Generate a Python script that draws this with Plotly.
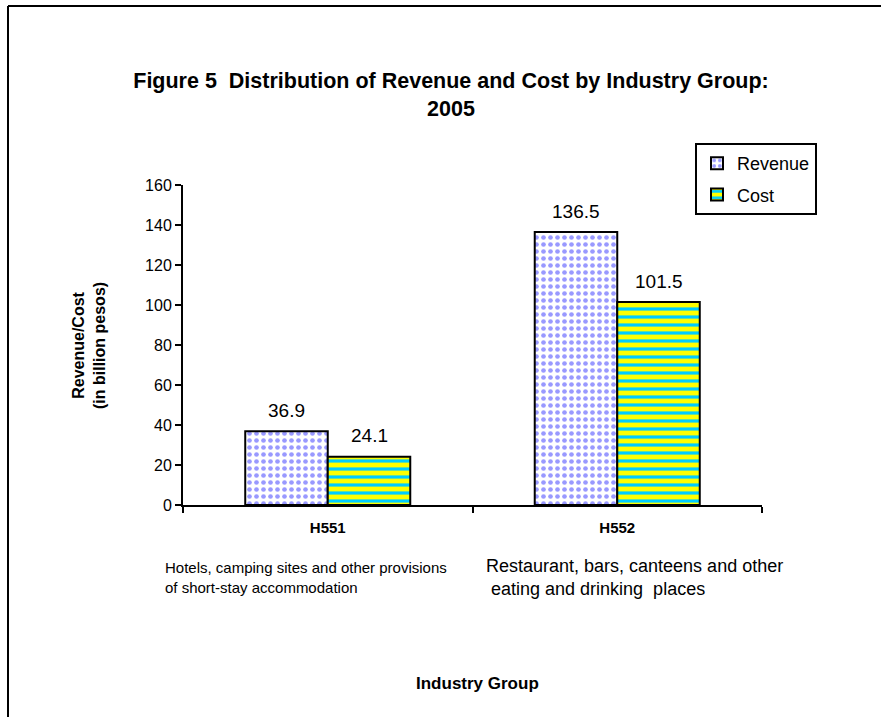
import plotly.graph_objects as go

categories = ["H551", "H552"]
revenue = [36.9, 136.5]
cost = [24.1, 101.5]
revenue_labels = ["36.9", "136.5"]
cost_labels = ["24.1", "101.5"]
y_ticks = [0, 20, 40, 60, 80, 100, 120, 140, 160]

ARIAL = "Liberation Sans, Arial, sans-serif"

W, H = 881, 717
L, R, T, B = 183, 119, 185, 212
pw = W - L - R
ph = H - T - B
BARGAP = 0.43


def px(x):
    return (x - L) / pw


def py(y):
    return 1 - (y - T) / ph


fig = go.Figure()
fig.add_trace(go.Bar(
    name="Revenue", x=categories, y=revenue, legendgroup="rev",
    marker=dict(color="white", line=dict(color="black", width=2),
                pattern=dict(shape=".", fgcolor="#9999FF", bgcolor="white",
                             size=7, solidity=0.35, fillmode="replace")),
))
fig.add_trace(go.Bar(
    name="Cost", x=categories, y=cost, legendgroup="cost",
    marker=dict(color="#FFFF00", line=dict(color="black", width=2),
                pattern=dict(shape="-", fgcolor="#00CCFF", bgcolor="#FFFF00",
                             size=8, solidity=0.4, fillmode="replace")),
))

# value labels above bars (positioned from the data values)
cat_px = pw / len(categories)
bar_px = cat_px * (1 - BARGAP) / 2
for vals, labels, side in ((revenue, revenue_labels, -1), (cost, cost_labels, 1)):
    for c, v, t in zip(categories, vals, labels):
        fig.add_annotation(x=c, y=v, xref="x", yref="y", text=t, showarrow=False,
                           xshift=side * bar_px / 2, yshift=21, yanchor="middle",
                           font=dict(family=ARIAL, size=19, color="black"))

fig.update_layout(
    width=W, height=H,
    margin=dict(l=L, r=R, t=T, b=B),
    paper_bgcolor="white", plot_bgcolor="white",
    barmode="group", bargap=BARGAP, bargroupgap=0,
    title=dict(text="<b>Figure 5  Distribution of Revenue and Cost by Industry Group:<br>2005</b>",
               x=451 / W, xanchor="center", y=1 - 88 / H, yanchor="middle",
               font=dict(family=ARIAL, size=21.5, color="black")),
    legend=dict(x=px(695), xanchor="left", y=py(143), yanchor="top",
                bordercolor="black", borderwidth=2, bgcolor="white",
                font=dict(family=ARIAL, size=18, color="black"),
                tracegroupgap=5, itemwidth=30),
    showlegend=True,
    font=dict(family=ARIAL, color="black"),
)
fig.update_yaxes(range=[0, 160], tickvals=y_ticks, showgrid=False, zeroline=False,
                 showline=True, linecolor="black", linewidth=2,
                 ticks="outside", ticklen=6, tickwidth=2, tickcolor="black",
                 tickfont=dict(family=ARIAL, size=16, color="black"))
fig.update_xaxes(showgrid=False, showline=True, linecolor="black", linewidth=2,
                 ticks="outside", ticklen=6, tickwidth=2, tickcolor="black",
                 tickson="boundaries", ticklabelstandoff=8,
                 tickfont=dict(family=ARIAL, size=15, color="black"),
                 tickvals=categories, ticktext=["<b>%s</b>" % c for c in categories])

fig.add_annotation(text="<b>Revenue/Cost<br>(in billion pesos)</b>", textangle=-90,
                   x=px(89), y=py(345), xref="paper", yref="paper",
                   xanchor="center", yanchor="middle",
                   showarrow=False, font=dict(family=ARIAL, size=16, color="black"))
fig.add_annotation(text="Hotels, camping sites and other provisions<br>of short-stay accommodation",
                   x=px(163), y=py(577), xref="paper", yref="paper", xanchor="left",
                   yanchor="middle", align="left", showarrow=False,
                   font=dict(family=ARIAL, size=15, color="black"))
fig.add_annotation(text="Restaurant, bars, canteens and other<br> eating and drinking  places",
                   x=px(484), y=py(577), xref="paper", yref="paper", xanchor="left",
                   yanchor="middle", align="left", showarrow=False,
                   font=dict(family=ARIAL, size=18, color="black"))
fig.add_annotation(text="<b>Industry Group</b>",
                   x=px(477), y=py(683), xref="paper", yref="paper",
                   xanchor="center", yanchor="middle",
                   showarrow=False, font=dict(family=ARIAL, size=17, color="black"))

fig.add_shape(type="line", xref="paper", yref="paper",
              x0=px(8), x1=px(8), y0=py(6), y1=py(720), line=dict(color="black", width=2))
fig.add_shape(type="line", xref="paper", yref="paper",
              x0=px(8), x1=px(885), y0=py(6), y1=py(6), line=dict(color="black", width=2))

fig.write_html("out.html", config={"displayModeBar": False},
               post_script="document.body.style.margin='0';")
